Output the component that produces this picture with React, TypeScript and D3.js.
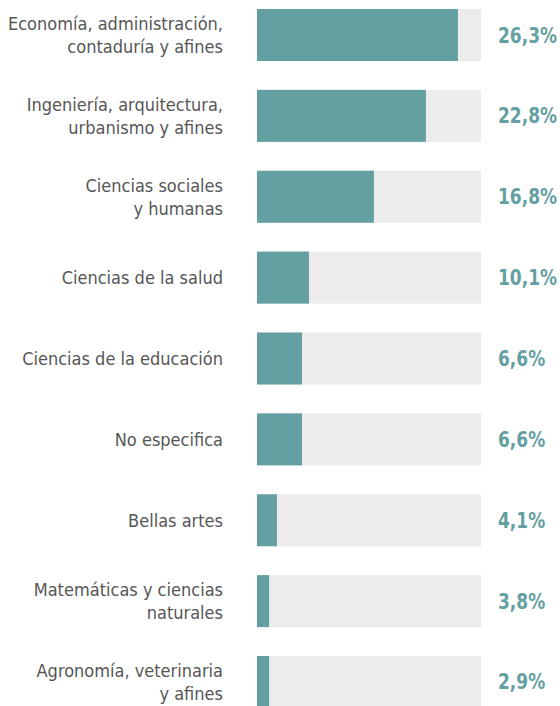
import React, { useEffect, useRef } from 'react';
import { select, scaleBand, scaleLinear } from 'd3';

// categories (line breaks as in the original)
const categories = [
  ['Economía, administración,', 'contaduría y afines'],
  ['Ingeniería, arquitectura,', 'urbanismo y afines'],
  ['Ciencias sociales', 'y humanas'],
  ['Ciencias de la salud'],
  ['Ciencias de la educación'],
  ['No especifica'],
  ['Bellas artes'],
  ['Matemáticas y ciencias', 'naturales'],
  ['Agronomía, veterinaria', 'y afines'],
];
// printed value labels
const valueLabels = ['26,3%', '22,8%', '16,8%', '10,1%', '6,6%', '6,6%', '4,1%', '3,8%', '2,9%'];
// bar fill as share of the grey track
const barShare = [89.7, 75.4, 52.2, 23.2, 20.1, 20.1, 8.9, 5.4, 5.4];

const W = 560;
const H = 706;
const teal = '#64a0a1';
const track = '#ececec';
const font = '"DejaVu Sans Condensed", "DejaVu Sans", sans-serif';

function App() {
  const svgRef = useRef<SVGSVGElement>(null);

  useEffect(() => {
    document.body.style.margin = '0';
    const svg = select(svgRef.current);
    svg.selectAll('*').remove();

    const y = scaleBand<number>()
      .domain(categories.map((d, i) => i))
      .range([9, 708])
      .paddingInner(0.357)
      .paddingOuter(0);

    const x = scaleLinear().domain([0, 100]).range([257, 481]);
    const bw = y.bandwidth();

    const rows = svg
      .selectAll('.row')
      .data(categories)
      .join('g')
      .attr('class', 'row')
      .attr('transform', (d, i) => `translate(0,${y(i)})`);

    rows
      .append('rect')
      .attr('x', x(0))
      .attr('width', x(100) - x(0))
      .attr('height', bw)
      .attr('fill', track);

    rows
      .append('rect')
      .attr('x', x(0))
      .attr('width', (d, i) => x(barShare[i]) - x(0))
      .attr('height', bw)
      .attr('fill', teal);

    // category labels
    rows
      .append('text')
      .attr('text-anchor', 'end')
      .attr('font-family', font)
      .attr('font-size', 18)
      .attr('fill', '#565656')
      .each(function (d) {
        const t = select(this);
        const n = d.length;
        d.forEach((line, j) => {
          t.append('tspan')
            .attr('x', 223)
            .attr('y', bw / 2 + 6.5 + (j - (n - 1) / 2) * 23)
            .text(line);
        });
      });

    // value labels, condensed a little horizontally
    rows
      .append('text')
      .attr('transform', `translate(498,${bw / 2 + 7.5}) scale(0.86,1)`)
      .attr('font-family', font)
      .attr('font-weight', 'bold')
      .attr('font-size', 22)
      .attr('fill', teal)
      .text((d, i) => valueLabels[i]);
  }, []);

  return (
    <svg ref={svgRef} width={W} height={H} style={{ display: 'block' }}></svg>
  );
}

export default App;
